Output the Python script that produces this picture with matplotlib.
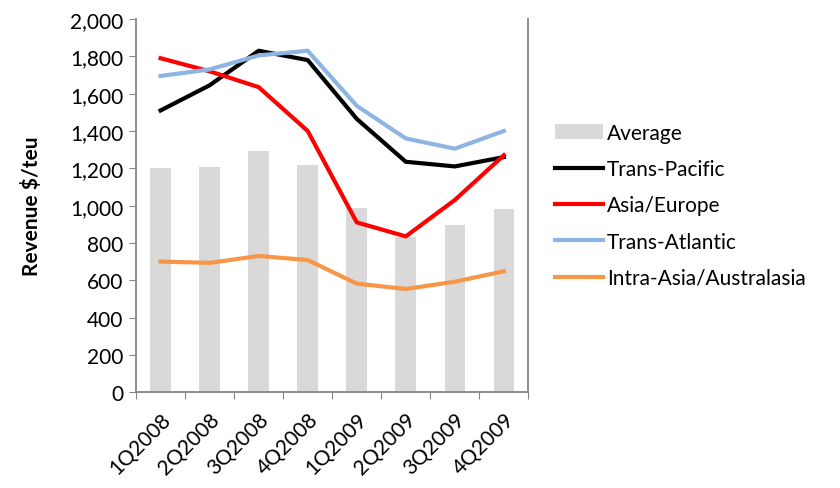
import matplotlib.pyplot as plt
import numpy as np

plt.rcParams['font.family'] = ['Lato', 'DejaVu Sans']

quarters = ["1Q2008", "2Q2008", "3Q2008", "4Q2008", "1Q2009", "2Q2009", "3Q2009", "4Q2009"]
average = [1200, 1205, 1295, 1215, 985, 830, 895, 983]
trans_pacific = [1510, 1645, 1830, 1780, 1465, 1235, 1210, 1260]
asia_europe = [1790, 1720, 1635, 1400, 910, 835, 1030, 1270]
trans_atlantic = [1695, 1730, 1805, 1830, 1535, 1360, 1305, 1400]
intra_asia = [700, 693, 730, 708, 582, 553, 592, 648]

FS = 15

fig = plt.figure(figsize=(8.4, 4.89), dpi=100)
ax = fig.add_axes([0.162, 0.196, 0.467, 0.763])

x = np.arange(len(quarters))
bars = ax.bar(x, average, width=0.42, color="#D9D9D9", label="Average", zorder=1)
l1, = ax.plot(x, trans_pacific, color="black", lw=3, label="Trans-Pacific", zorder=3)
l2, = ax.plot(x, asia_europe, color="#FF0000", lw=3, label="Asia/Europe", zorder=3)
l3, = ax.plot(x, trans_atlantic, color="#8DB4E2", lw=3, label="Trans-Atlantic", zorder=3)
l4, = ax.plot(x, intra_asia, color="#F79646", lw=3, label="Intra-Asia/Australasia", zorder=3)

ax.set_xlim(-0.5, len(quarters) - 0.5)
ax.set_ylim(0, 2000)
ax.set_yticks(range(0, 2001, 200))
ax.set_yticklabels([f"{v:,}" for v in range(0, 2001, 200)], fontsize=FS)

# category ticks on the slot boundaries, labels in the middle
ax.set_xticks(np.arange(-0.5, len(quarters), 1.0))
ax.set_xticklabels([])
ax.set_xticks(x, minor=True)
ax.set_xticklabels(quarters, minor=True, rotation=45, ha="right",
                   rotation_mode="anchor", fontsize=FS)
ax.tick_params(axis="x", which="minor", length=0, pad=12)
ax.tick_params(axis="x", which="major", length=5, color="#868686", direction="out")
ax.tick_params(axis="y", length=5, color="#868686", direction="out", pad=4)

ax.spines["top"].set_visible(False)
for side in ["left", "bottom", "right"]:
    ax.spines[side].set_color("#868686")
    ax.spines[side].set_linewidth(1.3)

ax.set_ylabel("Revenue $/teu", fontsize=FS, fontweight="bold")
ax.yaxis.set_label_coords(-0.24, 0.5)

handles = [bars, l1, l2, l3, l4]
ax.legend(handles, [h.get_label() for h in handles],
          loc="center left", bbox_to_anchor=(555 / 840, 0.578),
          bbox_transform=fig.transFigure, frameon=False, fontsize=FS,
          handlelength=2.3, handletextpad=0.2, labelspacing=0.78,
          borderaxespad=0, borderpad=0)

fig.savefig("out.png", dpi=100)
